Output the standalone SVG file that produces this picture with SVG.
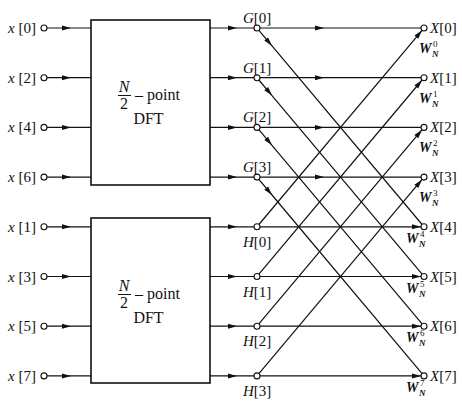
<svg xmlns="http://www.w3.org/2000/svg" width="462" height="401" viewBox="0 0 462 401">
<style>
text{font-family:"Liberation Serif","Times New Roman",serif;fill:#111}
.lbl{font-size:15px}
.it{font-style:italic}
.box{fill:#fff;stroke:#111;stroke-width:1.6}
.ln{fill:none;stroke:#111;stroke-width:1.2}
.arr{marker-mid:url(#ah)}
.end{marker-end:url(#ah)}
.nd{fill:#fff;stroke:#111;stroke-width:1.1}
.w{font-size:14px;font-style:italic;font-weight:bold}
.sup{font-size:9px}
.sub{font-size:9px;font-style:italic;font-weight:bold}
.bt{font-size:16px}
</style>
<defs>
<marker id="ah" markerUnits="userSpaceOnUse" markerWidth="10" markerHeight="6" refX="9" refY="2.5" orient="auto" overflow="visible">
<path d="M0,0 L9,2.5 L0,5 z" fill="#111"/>
</marker>
</defs>
<g id="connectors">
<path class="ln arr" d="M47,28 L71,28 L91,28"/>
<path class="ln arr" d="M47,77.7 L71,77.7 L91,77.7"/>
<path class="ln arr" d="M47,127.4 L71,127.4 L91,127.4"/>
<path class="ln arr" d="M47,177.1 L71,177.1 L91,177.1"/>
<path class="ln arr" d="M47,226.8 L71,226.8 L91,226.8"/>
<path class="ln arr" d="M47,276.5 L71,276.5 L91,276.5"/>
<path class="ln arr" d="M47,326.2 L71,326.2 L91,326.2"/>
<path class="ln arr" d="M47,375.9 L71,375.9 L91,375.9"/>
<path class="ln arr" d="M210,28 L237,28 L254,28"/>
<path class="ln arr" d="M210,77.7 L237,77.7 L254,77.7"/>
<path class="ln arr" d="M210,127.4 L237,127.4 L254,127.4"/>
<path class="ln arr" d="M210,177.1 L237,177.1 L254,177.1"/>
<path class="ln arr" d="M210,226.8 L237,226.8 L254,226.8"/>
<path class="ln arr" d="M210,276.5 L237,276.5 L254,276.5"/>
<path class="ln arr" d="M210,326.2 L237,326.2 L254,326.2"/>
<path class="ln arr" d="M210,375.9 L237,375.9 L254,375.9"/>
<path class="ln arr" d="M260,28 L324,28 L421,28"/>
<path class="ln arr" d="M260,77.7 L324,77.7 L421,77.7"/>
<path class="ln arr" d="M260,127.4 L324,127.4 L421,127.4"/>
<path class="ln arr" d="M260,177.1 L324,177.1 L421,177.1"/>
<path class="ln end" d="M260,226.8 L421,226.8"/>
<path class="ln end" d="M260,276.5 L421,276.5"/>
<path class="ln end" d="M260,326.2 L421,326.2"/>
<path class="ln end" d="M260,375.9 L421,375.9"/>
<path class="ln arr" d="M258.9,30.3 L272,45.9 L422.1,224.5"/>
<path class="ln arr" d="M258.9,80 L272,95.6 L422.1,274.2"/>
<path class="ln arr" d="M258.9,129.7 L272,145.3 L422.1,323.9"/>
<path class="ln arr" d="M258.9,179.4 L272,195 L422.1,373.6"/>
<path class="ln end" d="M258.9,224.5 L422.1,30.3"/>
<path class="ln end" d="M258.9,274.2 L422.1,80"/>
<path class="ln end" d="M258.9,323.9 L422.1,129.7"/>
<path class="ln end" d="M258.9,373.6 L422.1,179.4"/>
</g>
<g id="dft-even">
<rect class="box" x="91" y="20" width="119" height="165"/>
<text class="bt it" x="124" y="92" text-anchor="middle">N</text>
<line x1="118" y1="95.5" x2="131" y2="95.5" stroke="#111" stroke-width="1"/>
<text class="bt" x="124" y="108.5" text-anchor="middle">2</text>
<text class="bt" x="135" y="99.5">– point</text>
<text class="bt" x="148.5" y="123.5" text-anchor="middle">DFT</text>
</g>
<g id="dft-odd">
<rect class="box" x="91" y="218" width="119" height="165"/>
<text class="bt it" x="124" y="291" text-anchor="middle">N</text>
<line x1="118" y1="294.5" x2="131" y2="294.5" stroke="#111" stroke-width="1"/>
<text class="bt" x="124" y="307.5" text-anchor="middle">2</text>
<text class="bt" x="135" y="298.5">– point</text>
<text class="bt" x="148.5" y="322.5" text-anchor="middle">DFT</text>
</g>
<g id="inputs">
<circle class="nd" cx="44" cy="28" r="3"/>
<circle class="nd" cx="44" cy="77.7" r="3"/>
<circle class="nd" cx="44" cy="127.4" r="3"/>
<circle class="nd" cx="44" cy="177.1" r="3"/>
<circle class="nd" cx="44" cy="226.8" r="3"/>
<circle class="nd" cx="44" cy="276.5" r="3"/>
<circle class="nd" cx="44" cy="326.2" r="3"/>
<circle class="nd" cx="44" cy="375.9" r="3"/>
<text class="lbl" x="8" y="33"><tspan class="it">x</tspan> [0]</text>
<text class="lbl" x="8" y="82.7"><tspan class="it">x</tspan> [2]</text>
<text class="lbl" x="8" y="132.4"><tspan class="it">x</tspan> [4]</text>
<text class="lbl" x="8" y="182.1"><tspan class="it">x</tspan> [6]</text>
<text class="lbl" x="8" y="231.8"><tspan class="it">x</tspan> [1]</text>
<text class="lbl" x="8" y="281.5"><tspan class="it">x</tspan> [3]</text>
<text class="lbl" x="8" y="331.2"><tspan class="it">x</tspan> [5]</text>
<text class="lbl" x="8" y="380.9"><tspan class="it">x</tspan> [7]</text>
</g>
<g id="G-nodes">
<circle class="nd" cx="257" cy="28" r="3"/>
<circle class="nd" cx="257" cy="77.7" r="3"/>
<circle class="nd" cx="257" cy="127.4" r="3"/>
<circle class="nd" cx="257" cy="177.1" r="3"/>
<text class="lbl" x="243" y="23"><tspan class="it">G</tspan>[0]</text>
<text class="lbl" x="243" y="72.7"><tspan class="it">G</tspan>[1]</text>
<text class="lbl" x="243" y="122.4"><tspan class="it">G</tspan>[2]</text>
<text class="lbl" x="243" y="172.1"><tspan class="it">G</tspan>[3]</text>
</g>
<g id="H-nodes">
<circle class="nd" cx="257" cy="226.8" r="3"/>
<circle class="nd" cx="257" cy="276.5" r="3"/>
<circle class="nd" cx="257" cy="326.2" r="3"/>
<circle class="nd" cx="257" cy="375.9" r="3"/>
<text class="lbl" x="243" y="247"><tspan class="it">H</tspan>[0]</text>
<text class="lbl" x="243" y="296.7"><tspan class="it">H</tspan>[1]</text>
<text class="lbl" x="243" y="346.4"><tspan class="it">H</tspan>[2]</text>
<text class="lbl" x="243" y="396.1"><tspan class="it">H</tspan>[3]</text>
</g>
<g id="outputs">
<circle class="nd" cx="424" cy="28" r="3"/>
<circle class="nd" cx="424" cy="77.7" r="3"/>
<circle class="nd" cx="424" cy="127.4" r="3"/>
<circle class="nd" cx="424" cy="177.1" r="3"/>
<circle class="nd" cx="424" cy="226.8" r="3"/>
<circle class="nd" cx="424" cy="276.5" r="3"/>
<circle class="nd" cx="424" cy="326.2" r="3"/>
<circle class="nd" cx="424" cy="375.9" r="3"/>
<text class="lbl" x="430" y="33"><tspan class="it">X</tspan>[0]</text>
<text class="lbl" x="430" y="82.7"><tspan class="it">X</tspan>[1]</text>
<text class="lbl" x="430" y="132.4"><tspan class="it">X</tspan>[2]</text>
<text class="lbl" x="430" y="182.1"><tspan class="it">X</tspan>[3]</text>
<text class="lbl" x="430" y="231.8"><tspan class="it">X</tspan>[4]</text>
<text class="lbl" x="430" y="281.5"><tspan class="it">X</tspan>[5]</text>
<text class="lbl" x="430" y="331.2"><tspan class="it">X</tspan>[6]</text>
<text class="lbl" x="430" y="380.9"><tspan class="it">X</tspan>[7]</text>
</g>
<g id="twiddles">
<text class="w" x="419" y="53">W</text><text class="sup" x="433" y="47">0</text><text class="sub" x="432" y="57">N</text>
<text class="w" x="419" y="102.7">W</text><text class="sup" x="433" y="96.7">1</text><text class="sub" x="432" y="106.7">N</text>
<text class="w" x="419" y="152.4">W</text><text class="sup" x="433" y="146.4">2</text><text class="sub" x="432" y="156.4">N</text>
<text class="w" x="419" y="202.1">W</text><text class="sup" x="433" y="196.1">3</text><text class="sub" x="432" y="206.1">N</text>
<text class="w" x="406" y="243">W</text><text class="sup" x="420" y="237">4</text><text class="sub" x="419" y="247">N</text>
<text class="w" x="406" y="292.7">W</text><text class="sup" x="420" y="286.7">5</text><text class="sub" x="419" y="296.7">N</text>
<text class="w" x="406" y="342.4">W</text><text class="sup" x="420" y="336.4">6</text><text class="sub" x="419" y="346.4">N</text>
<text class="w" x="406" y="392.1">W</text><text class="sup" x="420" y="386.1">7</text><text class="sub" x="419" y="396.1">N</text>
</g>
</svg>
